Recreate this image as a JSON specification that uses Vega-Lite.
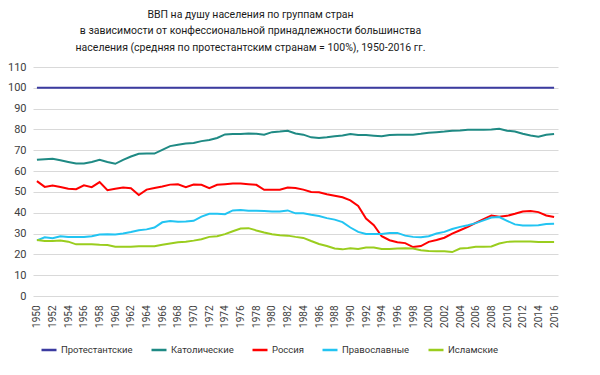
{
  "$schema": "https://vega.github.io/schema/vega-lite/v6.json",
  "autosize": "none",
  "width": 525,
  "height": 229,
  "padding": {"left": 33, "top": 67, "right": 42, "bottom": 79},
  "background": "white",
  "config": {"view": {"stroke": null}, "font": "Roboto"},
  "title": {
    "text": ["ВВП на душу населения по группам  стран", "в зависимости от конфессиональной принадлежности большинства", "населения (средняя по протестантским странам = 100%), 1950-2016 гг."],
    "fontSize": 10.5,
    "fontWeight": "normal",
    "color": "#1a1a1a",
    "anchor": "middle",
    "frame": "group",
    "dx": -45,
    "lineHeight": 16.5,
    "offset": 8
  },
  "data": {"values": [
    {"year":1950,"C":65.4,"R":55.2,"O":26.7,"I":26.9},
    {"year":1951,"C":65.7,"R":52.4,"O":28.2,"I":26.4},
    {"year":1952,"C":65.9,"R":53.1,"O":27.8,"I":26.4},
    {"year":1953,"C":65.2,"R":52.4,"O":28.7,"I":26.7},
    {"year":1954,"C":64.4,"R":51.5,"O":28.4,"I":26.1},
    {"year":1955,"C":63.6,"R":51.3,"O":28.4,"I":24.8},
    {"year":1956,"C":63.6,"R":53.2,"O":28.4,"I":24.8},
    {"year":1957,"C":64.4,"R":52.3,"O":28.7,"I":24.8},
    {"year":1958,"C":65.4,"R":54.7,"O":29.5,"I":24.6},
    {"year":1959,"C":64.4,"R":50.8,"O":29.7,"I":24.5},
    {"year":1960,"C":63.5,"R":51.5,"O":29.5,"I":23.7},
    {"year":1961,"C":65.4,"R":52.1,"O":30.0,"I":23.6},
    {"year":1962,"C":67.0,"R":51.8,"O":30.7,"I":23.6},
    {"year":1963,"C":68.3,"R":48.5,"O":31.6,"I":23.9},
    {"year":1964,"C":68.4,"R":51.1,"O":32.0,"I":23.9},
    {"year":1965,"C":68.4,"R":51.9,"O":32.9,"I":23.9},
    {"year":1966,"C":70.2,"R":52.6,"O":35.4,"I":24.6},
    {"year":1967,"C":72.0,"R":53.5,"O":36.0,"I":25.2},
    {"year":1968,"C":72.7,"R":53.7,"O":35.7,"I":25.8},
    {"year":1969,"C":73.2,"R":52.3,"O":35.8,"I":26.1},
    {"year":1970,"C":73.5,"R":53.5,"O":36.1,"I":26.6},
    {"year":1971,"C":74.4,"R":53.4,"O":38.1,"I":27.3},
    {"year":1972,"C":74.9,"R":51.8,"O":39.5,"I":28.4},
    {"year":1973,"C":75.9,"R":53.4,"O":39.5,"I":28.7},
    {"year":1974,"C":77.6,"R":53.7,"O":39.3,"I":29.7},
    {"year":1975,"C":77.8,"R":54.0,"O":41.1,"I":31.1},
    {"year":1976,"C":77.8,"R":54.0,"O":41.3,"I":32.4},
    {"year":1977,"C":78.1,"R":53.7,"O":41.0,"I":32.6},
    {"year":1978,"C":77.9,"R":53.4,"O":41.0,"I":31.5},
    {"year":1979,"C":77.5,"R":51.0,"O":40.8,"I":30.5},
    {"year":1980,"C":78.7,"R":51.0,"O":40.6,"I":29.7},
    {"year":1981,"C":79.0,"R":51.0,"O":40.6,"I":29.2},
    {"year":1982,"C":79.4,"R":52.1,"O":41.1,"I":29.0},
    {"year":1983,"C":78.1,"R":51.9,"O":39.7,"I":28.4},
    {"year":1984,"C":77.5,"R":51.1,"O":39.7,"I":27.9},
    {"year":1985,"C":76.2,"R":50.0,"O":39.0,"I":26.4},
    {"year":1986,"C":75.9,"R":49.8,"O":38.4,"I":25.0},
    {"year":1987,"C":76.2,"R":48.9,"O":37.4,"I":24.0},
    {"year":1988,"C":76.7,"R":48.2,"O":36.7,"I":22.8},
    {"year":1989,"C":77.1,"R":47.4,"O":35.5,"I":22.4},
    {"year":1990,"C":77.8,"R":45.9,"O":32.9,"I":22.9},
    {"year":1991,"C":77.3,"R":43.3,"O":30.8,"I":22.6},
    {"year":1992,"C":77.3,"R":37.2,"O":29.8,"I":23.3},
    {"year":1993,"C":77.0,"R":34.0,"O":29.8,"I":23.3},
    {"year":1994,"C":76.7,"R":28.7,"O":29.8,"I":22.6},
    {"year":1995,"C":77.3,"R":26.8,"O":30.3,"I":22.6},
    {"year":1996,"C":77.5,"R":25.8,"O":30.3,"I":22.8},
    {"year":1997,"C":77.5,"R":25.4,"O":29.0,"I":22.9},
    {"year":1998,"C":77.5,"R":23.5,"O":28.4,"I":22.8},
    {"year":1999,"C":77.9,"R":24.0,"O":28.2,"I":22.0},
    {"year":2000,"C":78.4,"R":26.0,"O":28.7,"I":21.6},
    {"year":2001,"C":78.7,"R":26.9,"O":30.0,"I":21.5},
    {"year":2002,"C":79.0,"R":28.0,"O":30.8,"I":21.5},
    {"year":2003,"C":79.4,"R":30.0,"O":32.2,"I":21.1},
    {"year":2004,"C":79.5,"R":31.6,"O":33.2,"I":22.8},
    {"year":2005,"C":79.8,"R":33.2,"O":34.0,"I":23.1},
    {"year":2006,"C":79.8,"R":35.1,"O":35.0,"I":23.6},
    {"year":2007,"C":79.8,"R":36.9,"O":36.3,"I":23.6},
    {"year":2008,"C":80.0,"R":38.7,"O":37.7,"I":23.8},
    {"year":2009,"C":80.3,"R":38.1,"O":37.9,"I":25.2},
    {"year":2010,"C":79.4,"R":38.5,"O":36.1,"I":26.0},
    {"year":2011,"C":79.0,"R":39.5,"O":34.4,"I":26.2},
    {"year":2012,"C":77.9,"R":40.6,"O":33.9,"I":26.2},
    {"year":2013,"C":77.1,"R":40.8,"O":33.9,"I":26.2},
    {"year":2014,"C":76.5,"R":40.3,"O":34.0,"I":25.9},
    {"year":2015,"C":77.5,"R":38.7,"O":34.6,"I":25.9},
    {"year":2016,"C":77.8,"R":37.9,"O":34.7,"I":25.9}
  ]},
  "encoding": {
    "x": {
      "field": "year", "type": "quantitative",
      "scale": {"domain": [1949.5, 2016.5], "nice": false, "zero": false},
      "axis": {
        "title": null, "grid": false, "domain": false, "ticks": false,
        "values": [1950,1952,1954,1956,1958,1960,1962,1964,1966,1968,1970,1972,1974,1976,1978,1980,1982,1984,1986,1988,1990,1992,1994,1996,1998,2000,2002,2004,2006,2008,2010,2012,2014,2016],
        "format": "d", "labelAngle": -90, "labelAlign": "right", "labelBaseline": "middle",
        "labelPadding": 9, "labelFontSize": 10, "labelColor": "#404040", "labelOverlap": false,
        "labelFlush": false
      }
    },
    "y": {
      "field": "value", "type": "quantitative",
      "scale": {"domain": [0, 110], "nice": false},
      "axis": {
        "title": null, "domain": false, "ticks": false,
        "values": [0,10,20,30,40,50,60,70,80,90,100,110],
        "labelOverlap": false,
        "gridColor": "#d9d9d9", "gridWidth": 1,
        "labelPadding": 7, "labelFontSize": 11, "labelColor": "#404040"
      }
    },
    "color": {
      "field": "group", "type": "nominal",
      "scale": {
        "domain": ["Протестантские", "Католические", "Россия", "Православные", "Исламские"],
        "range": ["#3b3ba0", "#1f8a84", "#ff0000", "#22c4f2", "#9acd1e"]
      },
      "legend": {
        "title": null, "orient": "none", "legendX": 7, "legendY": 274,
        "direction": "horizontal", "columns": 5, "columnPadding": 13,
        "symbolType": "stroke", "symbolSize": 225, "symbolStrokeWidth": 2.5,
        "labelFontSize": 9.5, "labelColor": "#333333", "labelOffset": 3, "padding": 0
      }
    }
  },
  "layer": [
    {
      "data": {"values": [
        {"year":1950,"value":100,"group":"Протестантские"},
        {"year":2016,"value":100,"group":"Протестантские"}
      ]},
      "mark": {"type": "line", "strokeWidth": 2}
    },
    {
      "transform": [
        {"fold": ["C", "R", "O", "I"], "as": ["key", "value"]},
        {"lookup": "key", "from": {"data": {"values": [
          {"key":"C","group":"Католические"},
          {"key":"R","group":"Россия"},
          {"key":"O","group":"Православные"},
          {"key":"I","group":"Исламские"}
        ]}, "key": "key", "fields": ["group"]}}
      ],
      "mark": {"type": "line", "strokeWidth": 2}
    }
  ]
}
